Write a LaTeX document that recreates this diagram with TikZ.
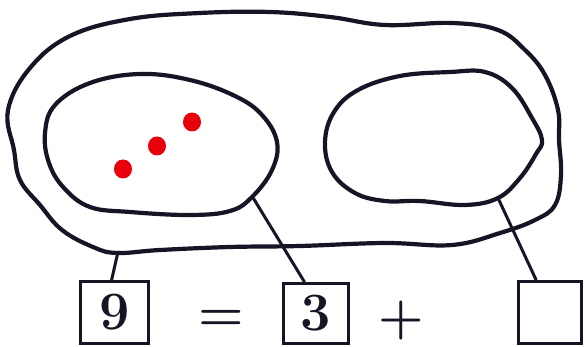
\documentclass[tikz,border=0pt]{standalone}
\usetikzlibrary{calc}
\definecolor{ink}{RGB}{24,20,38}
\definecolor{dotred}{RGB}{232,0,10}
\tikzset{
  blob/.style={draw=ink, line width=4.2pt, line join=round},
  link/.style={draw=ink, line width=3pt, line cap=round},
  numbox/.style={draw=ink, line width=3.4pt, inner sep=0pt, font=\fontsize{54}{58}\selectfont\bfseries, text=ink},
  sign/.style={inner sep=0pt, font=\fontsize{52}{58}\selectfont\bfseries, text=ink},
  reddot/.style={fill=dotred, draw=none}
}
\begin{document}
\begin{tikzpicture}[x=1pt,y=-1pt]
\useasboundingbox[fill=white] (0,0) rectangle (585,347);
% outer blob
\draw[blob] plot[smooth cycle, tension=0.65] coordinates {
 (8,110) (14,150) (20,180) (40,205) (62,230) (93,247) (117,253)
 (160,250) (230,247) (300,246) (385,243) (452,245)
 (500,233) (535,220) (555,205) (561,175) (559,140) (558,110)
 (545,75) (525,50) (498,30) (452,23) (385,25) (330,17) (270,12) (200,13)
 (130,19) (70,36) (30,68)};
% left inner blob
\draw[blob] plot[smooth cycle, tension=0.65] coordinates {
 (45,133) (55,105) (90,83) (140,74) (190,80) (235,96) (262,115)
 (277,142) (272,170) (252,197) (230,211) (190,215) (130,212)
 (90,207) (64,188) (49,163)};
% right inner blob
\draw[blob] plot[smooth cycle, tension=0.65] coordinates {
 (325,142) (334,112) (358,90) (400,76) (450,72) (485,72) (512,88)
 (532,118) (542,140) (536,154) (520,178) (498,198) (465,205)
 (420,201) (385,201) (355,193) (332,172)};
% red counters
\fill[reddot] (192,122) ellipse (9pt and 9.5pt);
\fill[reddot] (157,146) ellipse (9pt and 9.5pt);
\fill[reddot] (123,169) ellipse (9pt and 9.5pt);
% attachment points on the blobs
\coordinate (oWhole) at (118,252);
\coordinate (oLeft) at (252,196);
\coordinate (oRight) at (498,198);
% boxes and signs
\node[numbox, minimum width=68pt, minimum height=62pt] (b9) at (114.5,312.5) {9};
\node[sign] (eq) at (221,320) {=};
\node[numbox, minimum width=65pt, minimum height=60pt] (b3) at (316,313.5) {3};
\node[sign] (plus) at (401,321) {+};
\node[numbox, minimum width=63pt, minimum height=62pt] (bE) at (550,312.5) {};
% connectors
\draw[link] (oWhole) -- ($(b9.north west)!0.46!(b9.north east)$);
\draw[link] (oLeft) -- ($(b3.north west)!0.33!(b3.north east)$);
\draw[link] (oRight) -- ($(bE.north west)!0.29!(bE.north east)$);
\end{tikzpicture}
\end{document}
